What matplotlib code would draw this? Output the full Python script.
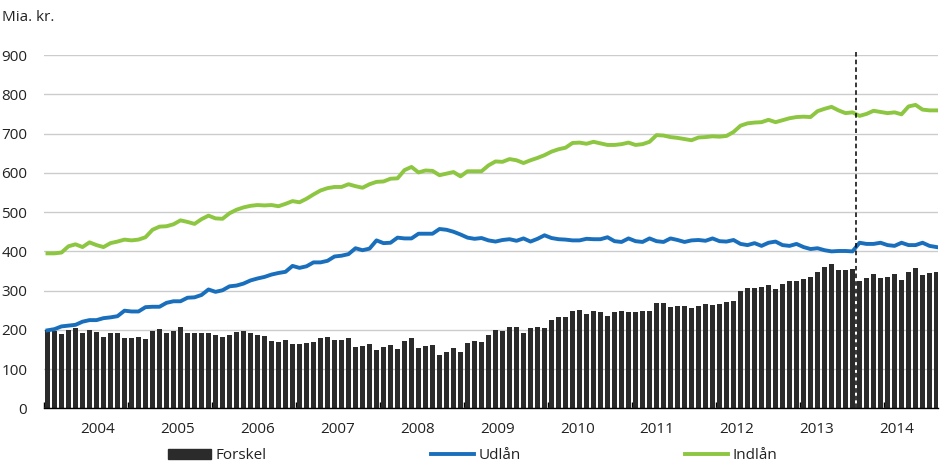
import matplotlib
matplotlib.use("Agg")
import matplotlib.pyplot as plt
from matplotlib.patches import Patch
from matplotlib.lines import Line2D
import numpy as np

forskel = [199, 197, 189, 200, 206, 191, 200, 196, 183, 193, 191, 180, 180, 183, 178, 198,
           203, 193, 198, 207, 191, 191, 193, 191, 186, 183, 188, 196, 197, 191, 188, 184,
           172, 169, 174, 165, 165, 167, 169, 179, 182, 174, 174, 179, 156, 160, 164, 150,
           156, 161, 152, 172, 179, 154, 160, 161, 136, 144, 154, 144, 167, 172, 169, 188,
           200, 197, 208, 208, 193, 205, 208, 205, 225, 233, 233, 248, 251, 241, 248, 246,
           236, 246, 248, 246, 246, 248, 248, 269, 269, 258, 261, 261, 256, 261, 266, 264,
           265, 271, 274, 298, 306, 306, 310, 314, 303, 316, 324, 324, 329, 334, 347, 359,
           367, 352, 352, 354, 324, 331, 342, 331, 336, 342, 326, 347, 357, 339, 344, 347]

udlaan = [199, 202, 209, 211, 213, 221, 225, 225, 230, 232, 235, 249, 247, 247, 258, 259,
          259, 269, 273, 273, 282, 283, 289, 303, 297, 301, 311, 313, 318, 326, 331, 335,
          341, 345, 348, 363, 358, 362, 372, 372, 376, 387, 389, 393, 408, 403, 407, 428,
          421, 422, 435, 433, 433, 445, 445, 445, 457, 455, 450, 443, 435, 432, 434, 428,
          425, 429, 431, 427, 433, 425, 432, 441, 434, 431, 430, 428, 428, 432, 431, 431,
          436, 426, 424, 433, 426, 424, 433, 426, 424, 433, 429, 424, 428, 429, 427, 433,
          426, 425, 429, 419, 416, 421, 414, 422, 425, 416, 414, 419, 411, 406, 408, 403,
          400, 401, 401, 400, 422, 419, 419, 422, 416, 414, 422, 416, 416, 422, 414, 411]

indlaan = [395, 395, 397, 413, 418, 411, 423, 416, 411, 421, 425, 430, 428, 430, 436, 455,
           463, 464, 469, 479, 475, 470, 482, 491, 484, 483, 497, 506, 512, 516, 518, 517,
           518, 515, 521, 528, 525, 534, 545, 555, 561, 564, 564, 571, 566, 562, 571, 577,
           578, 585, 586, 607, 615, 601, 606, 605, 594, 598, 602, 591, 604, 604, 604, 619,
           629, 628, 635, 632, 625, 632, 638, 645, 654, 660, 664, 676, 677, 674, 679, 675,
           671, 671, 673, 677, 671, 673, 679, 696, 695, 691, 689, 686, 683, 690, 691, 693,
           692, 694, 704, 720, 726, 728, 729, 735, 729, 734, 739, 742, 743, 742, 757, 763,
           768, 759, 752, 754, 745, 750, 758, 755, 752, 754, 749, 769, 773, 761, 759, 759]

years = ["2004", "2005", "2006", "2007", "2008", "2009", "2010", "2011", "2012", "2013", "2014"]
brud = 115.5   # data break (dashed line), in month index

plt.rcParams['font.family'] = ['Open Sans', 'DejaVu Sans']
plt.rcParams['font.size'] = 11

x = np.arange(len(forskel))
fig = plt.figure(figsize=(9.4, 4.73), dpi=100)
ax = fig.add_axes([0.0468, 0.1364, 0.951, 0.7473])

ax.bar(x, forskel, width=0.6, color='#2b2b2b', zorder=2)
ax.plot(x, udlaan, color='#1a6fbd', lw=2.8, zorder=3, solid_joinstyle='round')
ax.plot(x, indlaan, color='#8dc641', lw=2.8, zorder=3, solid_joinstyle='round')
ax.plot([brud, brud], [0, 908], color='black', lw=1.1, ls=(0, (3, 2)), zorder=4, clip_on=False)

ax.set_xlim(-0.5, 127.2)
ax.set_ylim(0, 900)
ax.set_yticks(range(0, 901, 100))
ax.yaxis.grid(True, color='#cccccc', lw=1.0, zorder=0)
ax.set_axisbelow(True)
ax.tick_params(axis='y', length=0, pad=12, colors='#222222')

# year boundary ticks + labels between them
ax.set_xticks(np.arange(-0.5, 128, 12))
ax.set_xticklabels([])
ax.tick_params(axis='x', which='major', direction='in', length=4, width=1, color='black')
lab_pos = [7.2 + 11.41 * i for i in range(len(years))]
ax.set_xticks(lab_pos, minor=True)
ax.set_xticklabels(years, minor=True)
ax.tick_params(axis='x', which='minor', length=0, pad=10, colors='#222222')

for s in ['top', 'right', 'left']:
    ax.spines[s].set_visible(False)
ax.spines['bottom'].set_color('black')
ax.spines['bottom'].set_linewidth(1.0)
ax.spines['bottom'].set_zorder(5)

fig.text(0.002, 0.962, "Mia. kr.", ha='left', va='center', color='#222222')

handles = [Patch(color='#2b2b2b'),
           Line2D([], [], color='#1a6fbd', lw=2.8),
           Line2D([], [], color='#8dc641', lw=2.8)]
names = ["Forskel", "Udlån", "Indlån"]
for h, n, px in zip(handles, names, [172, 435, 689]):
    leg = fig.legend([h], [n], loc='center left', bbox_to_anchor=(px / 940 - 0.009, 0.036),
                     frameon=False, handlelength=2.8, handleheight=0.6, handletextpad=0.3,
                     borderaxespad=0, borderpad=0.3)
    for t in leg.get_texts():
        t.set_color('#222222')

fig.savefig("out.png", dpi=100)
